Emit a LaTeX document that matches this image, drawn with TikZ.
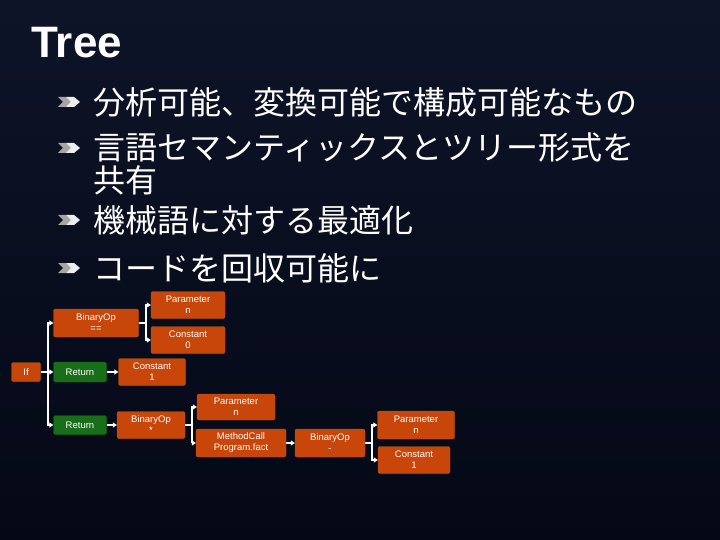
\documentclass[tikz,border=0pt]{standalone}
\usepackage{fontspec}
\setmainfont{Liberation Sans}
\newfontfamily\cjk{Noto Sans CJK JP}
\usetikzlibrary{arrows.meta, positioning, calc}
\definecolor{bgtop}{RGB}{14,20,40}
\definecolor{bgbot}{RGB}{4,8,22}
\definecolor{nodeorange}{RGB}{200,70,10}
\definecolor{nodegreen}{RGB}{25,110,25}

\begin{document}
\begin{tikzpicture}[x=1pt, y=-1pt]
	\tikzset{
		treebox/.style={rectangle, rounded corners=2pt, draw=orange!70!black, fill=nodeorange, text=white, align=center, font=\fontsize{9.5}{11}\selectfont, inner sep=1pt},
		retbox/.style={treebox, draw=green!40!black, fill=nodegreen},
		link/.style={draw=white, line width=2pt, -{Triangle[length=4pt, width=5pt]}},
		bullet/.style={text=white, anchor=west, font=\cjk\fontsize{32}{36}\selectfont}
	}
	% background
	\shade[top color=bgtop, bottom color=bgbot] (0,0) rectangle (720,540);
	\useasboundingbox (0,0) rectangle (720,540);

	% title and bullets
	\node (title) [anchor=west, text=white, font=\bfseries\fontsize{44}{44}\selectfont] at (28,43) {Tree};
	\foreach \yy/\txt in {102/分析可能、変換可能で構成可能なもの, 148/言語セマンティックスとツリー形式を, 220/機械語に対する最適化, 268/コードを回収可能に} {
		\fill[gray!70] (58,\yy-5) -- (66,\yy-5) -- (72,\yy) -- (66,\yy+5) -- (58,\yy+5) -- (63,\yy) -- cycle;
		\fill[white!85!gray] (66,\yy-5) -- (74,\yy-5) -- (80,\yy) -- (74,\yy+5) -- (66,\yy+5) -- (71,\yy) -- cycle;
		\node[bullet] at (90,\yy) {\txt};
	}
	\node[bullet] (cont) at (90,180) {共有};

	% Nodes
	\node (if) [treebox, minimum width=29pt, minimum height=19pt] at (26,372) {If};
	\node (binEq) [treebox, minimum width=85pt, minimum height=28pt] at (96,323) {BinaryOp\\==};
	\node (parN1) [treebox, minimum width=74pt, minimum height=27pt] at (188,305) {Parameter\\n};
	\node (const0) [treebox, minimum width=74pt, minimum height=27pt] at (188,340) {Constant\\0};
	\node (ret1) [retbox, minimum width=53pt, minimum height=20pt] at (80,372) {Return};
	\node (const1a) [treebox, minimum width=67pt, minimum height=27pt] at (152,372) {Constant\\1};
	\node (ret2) [retbox, minimum width=53pt, minimum height=19pt] at (80,425) {Return};
	\node (binMul) [treebox, minimum width=68pt, minimum height=27pt] at (151,425) {BinaryOp\\*};
	\node (parN2) [treebox, minimum width=78pt, minimum height=26pt] at (236,407) {Parameter\\n};
	\node (call) [treebox, minimum width=90pt, minimum height=28pt] at (241,443) {MethodCall\\Program.fact};
	\node (binSub) [treebox, minimum width=70pt, minimum height=28pt] at (330,443) {BinaryOp\\-};
	\node (parN3) [treebox, minimum width=77pt, minimum height=28pt] at (416,425) {Parameter\\n};
	\node (const1b) [treebox, minimum width=72pt, minimum height=27pt] at (414,460) {Constant\\1};

	% Arrows
	\foreach \kid in {binEq, ret1, ret2}
		\draw[link] (if.east) -- ++(7,0) |- (\kid.west);
	\foreach \kid in {parN1, const0}
		\draw[link] (binEq.east) -- ++(7,0) |- (\kid.west);
	\draw[link] (ret1) -- (const1a);
	\draw[link] (ret2) -- (binMul);
	\foreach \kid in {parN2, call}
		\draw[link] (binMul.east) -- ++(7,0) |- (\kid.west);
	\draw[link] (call) -- (binSub);
	\foreach \kid in {parN3, const1b}
		\draw[link] (binSub.east) -- ++(7,0) |- (\kid.west);
\end{tikzpicture}
\end{document}
